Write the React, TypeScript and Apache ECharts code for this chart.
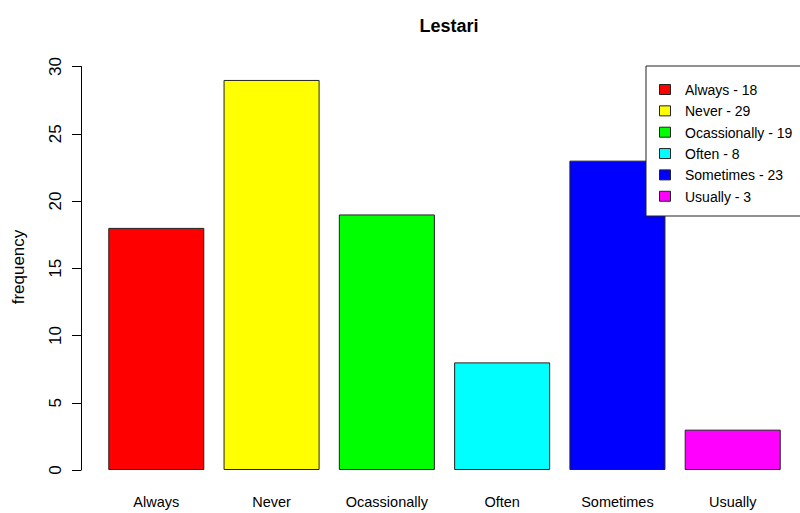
import React, { useEffect, useRef } from "react";
import * as echarts from "echarts";

const categories = ["Always", "Never", "Ocassionally", "Often", "Sometimes", "Usually"];
const frequencies = [18, 29, 19, 8, 23, 3];
const barColors = ["#ff0000", "#ffff00", "#00ff00", "#00ffff", "#0000ff", "#ff00ff"];
const chartTitle = "Lestari";
const yAxisTitle = "frequency";

const FONT = "'Liberation Sans', Arial, sans-serif";

export default function App() {
  const ref = useRef<HTMLDivElement>(null);
  useEffect(() => {
    if (!ref.current) return;
    const chart = echarts.init(ref.current, null, { renderer: "svg" });

    const legendLeft = 646;
    const legendTop = 66;
    const rowStart = 90;
    const rowGap = 21.35;
    const legendItems: any[] = [
      {
        type: "rect",
        shape: { x: legendLeft, y: legendTop, width: 170, height: 150 },
        style: { fill: "#ffffff", stroke: "#222222", lineWidth: 1 },
        z: 100,
      },
    ];
    categories.forEach((c, i) => {
      const cy = rowStart + i * rowGap;
      legendItems.push({
        type: "rect",
        shape: { x: 659.5, y: cy - 5.5, width: 11, height: 10 },
        style: { fill: barColors[i], stroke: "#222222", lineWidth: 1 },
        z: 101,
      });
      legendItems.push({
        type: "text",
        x: 685,
        y: cy,
        style: {
          text: `${c} - ${frequencies[i]}`,
          fill: "#000000",
          font: `14px ${FONT}`,
          textAlign: "left",
          textVerticalAlign: "middle",
        },
        z: 101,
      });
    });

    chart.setOption({
      animation: false,
      backgroundColor: "#ffffff",
      title: {
        text: chartTitle,
        left: 444,
        top: 12,
        textAlign: "center",
        textStyle: { fontFamily: FONT, fontSize: 18, fontWeight: "bold", color: "#000" },
      },
      grid: { left: 98.65, right: 800 - 790.35, top: 66.5, bottom: 43, containLabel: false },
      xAxis: {
        type: "category",
        data: categories,
        axisLine: { show: false },
        axisTick: { show: false },
        axisLabel: { color: "#000", fontFamily: FONT, fontSize: 14.5, margin: 24, interval: 0 },
      },
      yAxis: {
        type: "value",
        min: 0,
        max: 30,
        interval: 5,
        offset: 17.65,
        splitLine: { show: false },
        axisLine: { show: true, lineStyle: { color: "#000", width: 1 } },
        axisTick: { show: true, length: 9, lineStyle: { color: "#000" } },
        axisLabel: { color: "#000", fontFamily: FONT, fontSize: 17, rotate: 90, margin: 17 },
      },
      graphic: [
        {
          type: "text",
          x: 18,
          y: 267,
          rotation: Math.PI / 2,
          style: {
            text: yAxisTitle,
            fill: "#000",
            font: `17px ${FONT}`,
            textAlign: "center",
            textVerticalAlign: "middle",
          },
        },
        ...legendItems,
      ],
      series: [
        {
          type: "bar",
          barCategoryGap: "16.7%",
          data: frequencies.map((v, i) => ({
            value: v,
            itemStyle: { color: barColors[i], borderColor: "#222222", borderWidth: 1 },
          })),
        },
      ],
    });
    return () => chart.dispose();
  }, []);
  return (
    <div
      ref={ref}
      style={{ position: "fixed", left: 0, top: 0, width: 800, height: 513 }}
    />
  );
}
